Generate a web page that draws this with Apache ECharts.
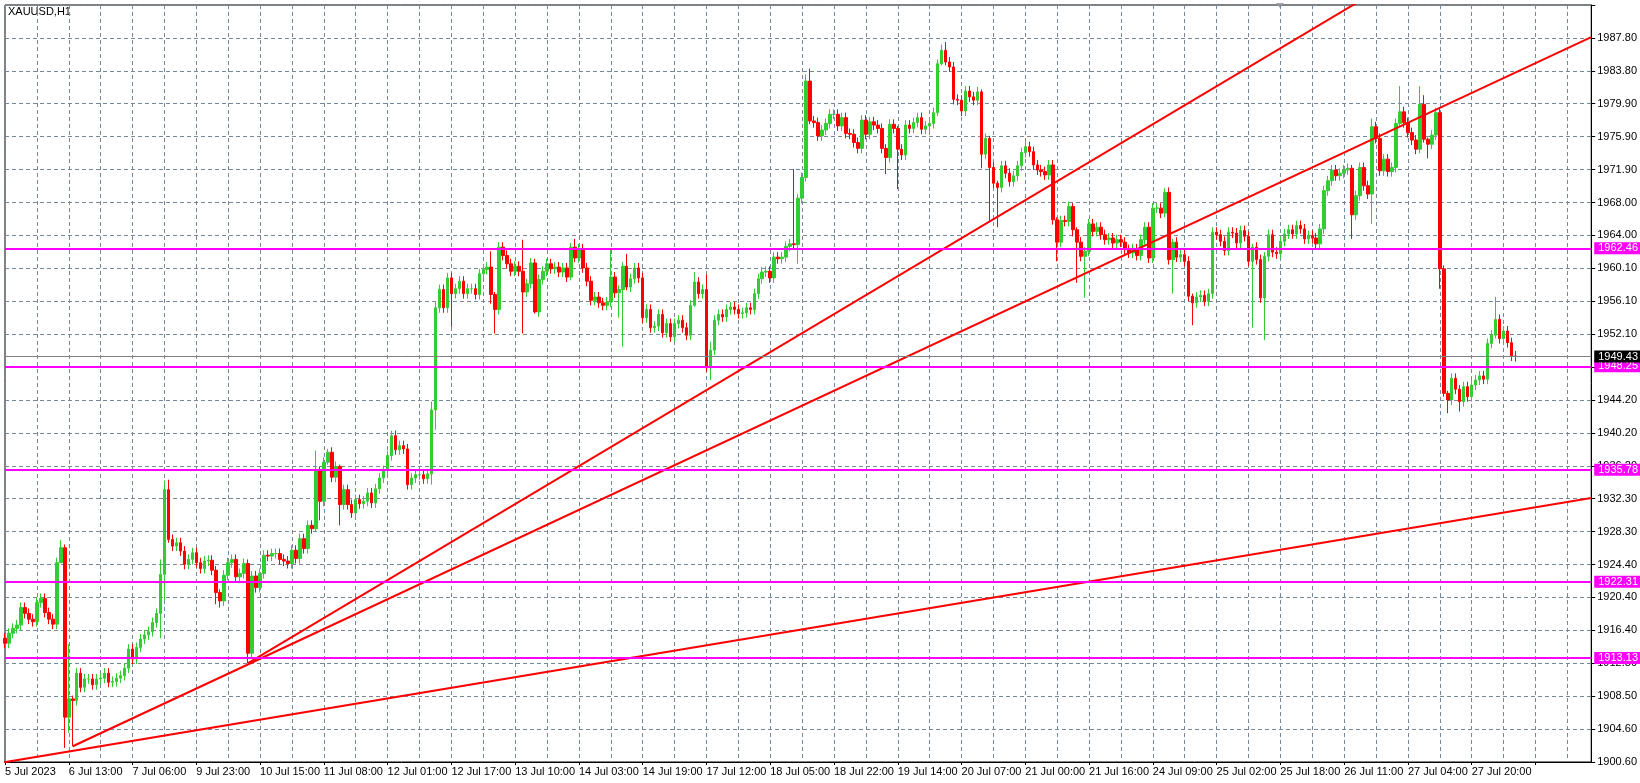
<!DOCTYPE html>
<html>
<head>
<meta charset="utf-8">
<script src="https://cdn.jsdelivr.net/npm/echarts@6/dist/echarts.min.js"></script>
<style>
html,body{margin:0;padding:0;background:#fff;}
#chart{width:1640px;height:783px;}
</style>
</head>
<body>
<div id="chart"></div>
<script>
// H1 closes, one per bar (open of each bar = previous close)
var closes = [
1914.9,1916.1,1916.7,1917.1,1919.2,1918.5,1917.8,1917.5,1919.8,1920.3,1918.6,1917.8,1917.2,1924.6,1926.4,1906.0,1908.2,1908.0,1911.3,1909.6,
1910.6,1910.6,1909.9,1910.6,1910.7,1911.3,1910.2,1910.3,1910.7,1911.0,1911.9,1914.2,1913.0,1914.4,1915.4,1915.9,1916.3,1917.4,1918.5,1923.2,
1933.4,1927.4,1926.6,1927.0,1926.0,1924.4,1925.0,1925.8,1924.6,1923.9,1924.8,1924.9,1923.7,1921.0,1920.0,1923.1,1924.6,1925.0,1922.9,1923.3,
1924.5,1913.7,1923.0,1921.6,1923.3,1925.5,1925.4,1925.7,1925.7,1925.0,1924.8,1924.5,1926.1,1925.1,1927.5,1926.3,1929.1,1928.7,1935.8,1932.0,
1936.7,1937.9,1934.9,1936.2,1931.6,1933.4,1931.6,1930.6,1932.2,1931.7,1932.0,1933.0,1931.8,1933.5,1934.8,1935.7,1937.5,1939.9,1938.2,1938.7,
1938.3,1934.0,1934.8,1935.2,1935.2,1934.7,1935.3,1943.0,1955.3,1957.5,1955.3,1958.9,1957.0,1957.6,1958.5,1957.0,1957.6,1957.6,1956.9,1959.4,
1959.9,1960.2,1956.9,1955.1,1962.6,1961.6,1960.6,1959.7,1960.3,1959.7,1957.2,1958.2,1960.7,1954.8,1958.7,1959.7,1960.6,1960.0,1960.2,1959.6,
1960.1,1959.0,1962.6,1961.3,1962.4,1960.1,1958.5,1956.2,1956.6,1955.9,1955.6,1956.0,1959.0,1957.1,1957.5,1960.3,1957.8,1958.8,1960.1,1958.9,
1954.1,1955.1,1952.9,1953.1,1954.5,1952.3,1953.4,1951.8,1953.4,1953.8,1952.9,1952.0,1955.6,1958.4,1957.0,1957.5,1948.1,1950.2,1953.8,1954.5,
1954.2,1955.1,1955.4,1955.1,1954.6,1954.7,1955.3,1955.1,1957.0,1958.8,1959.6,1959.7,1958.9,1961.4,1961.2,1961.4,1962.7,1963.0,1962.9,1968.5,
1971.0,1982.6,1977.8,1977.6,1976.0,1976.7,1977.5,1978.6,1978.6,1977.2,1978.2,1976.3,1976.2,1975.2,1974.5,1977.9,1976.2,1977.7,1977.3,1976.9,
1974.5,1973.4,1977.4,1976.9,1974.4,1973.7,1977.3,1976.9,1977.6,1978.2,1976.8,1977.2,1977.5,1978.8,1984.7,1986.3,1984.9,1984.3,1980.4,1980.3,
1979.0,1981.4,1980.7,1980.3,1981.3,1973.8,1975.7,1972.2,1970.3,1969.8,1972.4,1971.5,1970.5,1971.2,1972.4,1974.0,1974.7,1974.1,1972.5,1971.9,
1971.7,1971.3,1972.5,1965.9,1963.2,1965.8,1965.7,1967.5,1964.7,1963.2,1961.5,1962.1,1965.4,1964.5,1965.0,1964.1,1963.5,1963.7,1963.1,1963.5,
1963.2,1962.3,1961.9,1962.4,1961.6,1963.5,1965.0,1961.3,1967.3,1967.3,1966.7,1969.2,1961.1,1963.2,1961.4,1961.7,1960.9,1956.7,1955.9,1956.6,
1956.8,1956.1,1957.0,1964.4,1964.1,1963.3,1962.2,1964.4,1964.3,1963.1,1964.6,1963.9,1960.9,1962.6,1961.1,1956.5,1961.5,1964.1,1962.0,1961.8,
1963.3,1964.2,1964.7,1964.2,1965.2,1964.8,1963.6,1964.0,1963.7,1963.0,1964.8,1969.4,1970.6,1971.9,1971.2,1971.5,1971.9,1972.1,1966.5,1968.8,
1972.2,1970.0,1969.0,1977.1,1975.7,1971.8,1973.2,1971.7,1972.2,1977.5,1978.9,1977.6,1976.4,1975.5,1974.4,1979.8,1975.6,1975.0,1976.1,1978.8,
1960.0,1945.0,1944.2,1946.8,1945.5,1944.0,1945.8,1944.6,1946.0,1946.6,1947.1,1946.7,1951.0,1952.0,1953.9,1951.6,1952.5,1951.1,1949.5,1949.43
];
var firstOpen = 1915.5;
var wickDefault = 0.6;
// notable wicks: bar -> [low, high]
var wicks = {
  14:[1925.8,1927.3], 15:[1902.3,1926.8], 16:[1904.1,1914.8], 17:[1902.5,1908.6],
  39:[1915.5,1925.0], 40:[1920.0,1934.5], 41:[1927.0,1934.6], 53:[1919.6,1924.2], 54:[1919.2,1921.4],
  61:[1912.5,1925.0], 78:[1928.4,1938.1], 79:[1929.7,1936.2], 81:[1936.4,1938.3], 84:[1929.1,1936.4],
  107:[1934.0,1944.0], 108:[1940.6,1956.0], 112:[1953.0,1959.5], 122:[1955.8,1962.1], 123:[1952.2,1957.2],
  130:[1952.2,1963.5], 133:[1954.6,1961.2], 142:[1958.6,1963.1], 143:[1960.8,1963.6], 152:[1955.4,1962.5],
  154:[1954.1,1958.0], 155:[1950.6,1960.8], 156:[1957.4,1961.8], 173:[1955.4,1959.6], 176:[1947.6,1959.3],
  177:[1946.6,1951.2], 198:[1962.4,1972.0], 199:[1960.6,1969.0], 201:[1970.5,1983.4], 202:[1977.4,1984.1],
  221:[1971.4,1975.0], 224:[1969.6,1977.2], 234:[1978.4,1985.2], 235:[1984.5,1987.0], 236:[1984.5,1987.3],
  245:[1972.1,1981.6], 247:[1965.7,1976.0], 249:[1965.0,1970.6], 264:[1960.9,1966.2], 268:[1963.9,1967.9],
  269:[1958.3,1965.0], 271:[1956.5,1962.6], 291:[1966.2,1969.7], 293:[1957.0,1963.6], 298:[1953.2,1957.0],
  313:[1952.9,1963.0], 316:[1951.4,1962.0], 338:[1963.6,1972.5], 343:[1965.4,1978.1], 350:[1977.2,1982.0],
  355:[1973.9,1982.0], 356:[1975.2,1980.9], 357:[1973.3,1975.8], 360:[1957.6,1979.3], 361:[1944.6,1960.4],
  362:[1942.6,1945.3], 365:[1942.8,1946.0], 374:[1951.6,1956.6]
};
var xLabels = ['5 Jul 2023','6 Jul 13:00','7 Jul 06:00','9 Jul 23:00','10 Jul 15:00','11 Jul 08:00','12 Jul 01:00',
  '12 Jul 17:00','13 Jul 10:00','14 Jul 03:00','14 Jul 19:00','17 Jul 12:00','18 Jul 05:00','18 Jul 22:00',
  '19 Jul 14:00','20 Jul 07:00','21 Jul 00:00','21 Jul 16:00','24 Jul 09:00','25 Jul 02:00','25 Jul 18:00',
  '26 Jul 11:00','27 Jul 04:00','27 Jul 20:00'];
var yLabels = ['1900.60','1904.60','1908.50','1912.50','1916.40','1920.40','1924.40','1928.30','1932.30','1936.20',
  '1940.20','1944.20','1948.10','1952.10','1956.10','1960.10','1964.00','1968.00','1971.90','1975.90','1979.90',
  '1983.80','1987.80',''];
var levels = [1962.46, 1948.25, 1935.78, 1922.31, 1913.13];
var bidPrice = 1949.43;
// trend lines: [bar, price] pairs
var trendLines = [
  [[17,1902.5],[398,1987.9]],
  [[61,1912.5],[345,1993.7]],
  [[-1,1900.5],[398,1932.4]]
];

var yMin = 1900.6, yStep = 3.96364, totalBars = 399;
var FONT = '"Liberation Sans", Arial, sans-serif';

var cats = [];
for (var i = 0; i < totalBars; i++) cats.push(i);

var ohlc = [];
closes.forEach(function(c, i){
  var o = i === 0 ? firstOpen : closes[i-1];
  var w = wicks[i];
  var lo = w ? w[0] : Math.min(o,c) - wickDefault;
  var hi = w ? w[1] : Math.max(o,c) + wickDefault;
  ohlc.push([o, c, lo, hi]);
});

var markData = levels.map(function(v){
  return {yAxis: v, lineStyle: {color: '#ff00ff', width: 2, type: 'solid'},
    label: {backgroundColor: '#ff00ff', color: '#fff'}};
});
markData.push({yAxis: bidPrice, lineStyle: {color: '#808080', width: 1, type: 'solid'},
  label: {backgroundColor: '#000', color: '#fff'}});

var series = [{
  type: 'candlestick',
  data: ohlc,
  barWidth: 3,
  clip: false,
  itemStyle: {color: '#32cd32', color0: '#ff0000', borderColor: '#32cd32', borderColor0: '#ff0000', borderWidth: 1},
  markLine: {
    silent: true, symbol: 'none', animation: false,
    label: {position: 'end', distance: 3, fontSize: 11, fontFamily: FONT, padding: [1, 4, 0, 4],
      formatter: function(p){ return p.value.toFixed(2); }},
    data: markData
  }
}];
trendLines.forEach(function(l){
  series.push({type: 'line', data: l, symbol: 'none', clip: true, animation: false,
    lineStyle: {color: '#ff0000', width: 2}});
});

var chart = echarts.init(document.getElementById('chart'));
chart.setOption({
  animation: false,
  backgroundColor: '#fff',
  grid: {left: 5, right: 43, top: 5, bottom: 21, show: true, borderColor: '#000', borderWidth: 1},
  xAxis: {
    type: 'category', data: cats, boundaryGap: false,
    axisLine: {lineStyle: {color: '#000'}},
    axisTick: {show: true, length: 3, interval: function(i){ return i % 16 === 0; }, lineStyle: {color: '#000'}},
    axisLabel: {interval: function(i){ return i % 16 === 0; }, align: 'left', margin: 4,
      color: '#000', fontSize: 11, fontFamily: FONT,
      formatter: function(v, i){ return xLabels[i / 16] || ''; }},
    splitLine: {show: true, interval: function(i){ return i % 8 === 0; },
      lineStyle: {color: '#778899', type: [4, 3], width: 1}}
  },
  yAxis: {
    type: 'value', position: 'right', min: yMin, max: yMin + 23 * yStep, interval: yStep,
    axisLine: {show: true, lineStyle: {color: '#000'}},
    axisTick: {show: true, length: 4, lineStyle: {color: '#000'}},
    axisLabel: {color: '#000', fontSize: 11, fontFamily: FONT, margin: 6,
      formatter: function(v){ return yLabels[Math.round((v - yMin) / yStep)] || ''; }},
    splitLine: {show: true, lineStyle: {color: '#778899', type: [4, 3], width: 1}}
  },
  graphic: [
    {type: 'text', left: 8, top: 6, style: {text: 'XAUUSD,H1', fill: '#000', font: '11px "Liberation Sans", Arial, sans-serif'}},
    {type: 'polygon', shape: {points: [[1276, 3], [1284, 3], [1280, 8]]}, style: {fill: '#a0a0a0'}}
  ],
  series: series
});
</script>
</body>
</html>
